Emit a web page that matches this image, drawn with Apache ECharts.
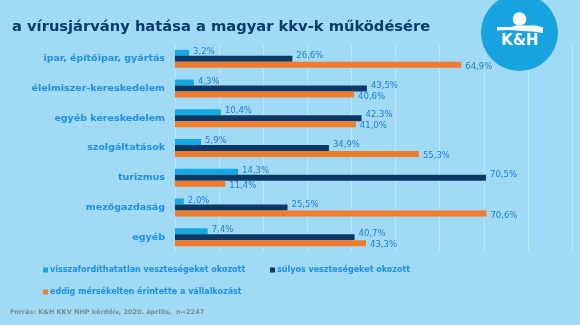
<!DOCTYPE html>
<html><head><meta charset="utf-8">
<script src="https://cdn.jsdelivr.net/npm/echarts@6/dist/echarts.min.js"></script>
<style>html,body{margin:0;padding:0;background:#a0daf5;}#c{width:580px;height:325px;}</style>
</head><body><div id="c"></div>
<script>
const categories = ['ipar, építőipar, gyártás','élelmiszer-kereskedelem','egyéb kereskedelem','szolgáltatások','turizmus','mezőgazdaság','egyéb'];
const seriesNames = ['visszafordíthatatlan veszteségeket okozott','súlyos veszteségeket okozott','eddig mérsékelten érintette a vállalkozást'];
const irreversible = [3.2, 4.3, 10.4, 5.9, 14.3, 2.0, 7.4];
const severe = [26.6, 43.5, 42.3, 34.9, 70.5, 25.5, 40.7];
const moderate = [64.9, 40.6, 41.0, 55.3, 11.4, 70.6, 43.3];
const colors = ['#14a8e2','#0b3864','#f47a2c'];
const labelOffsets = [[0,-1],[0,-3],[0,2]];
const dataSets = [irreversible, severe, moderate];

const chart = echarts.init(document.getElementById('c'));
const fmt = p => p.value.toFixed(1).replace('.', ',') + '%';
const series = dataSets.map((d, i) => ({
  name: seriesNames[i], type: 'bar', data: d, barWidth: 6, barGap: '0%',
  itemStyle: {color: colors[i]},
  label: {show: true, position: 'right', distance: 4, offset: labelOffsets[i], formatter: fmt,
    color: '#1a7fd4', fontSize: 8.5, fontFamily: 'DejaVu Sans'}
}));
const legendBase = {icon: 'rect', itemWidth: 5, itemHeight: 5,
  textStyle: {color: '#1e8fe6', fontSize: 8, fontWeight: 'bold', fontFamily: 'DejaVu Sans', padding: [0,0,0,-3]}};
chart.setOption({
  backgroundColor: '#a0daf5',
  animation: false,
  grid: {left: 175, right: 8, top: 44, height: 208},
  xAxis: {type: 'value', min: 0, max: 90, interval: 10,
    axisLabel: {show: false}, axisLine: {show: false}, axisTick: {show: false},
    splitLine: {lineStyle: {color: '#b8e5f9', width: 1}}},
  yAxis: {type: 'category', data: categories, inverse: true,
    axisLine: {show: false}, axisTick: {show: false},
    axisLabel: {margin: 10, color: '#1e8fe6', fontSize: 9.5, fontWeight: 'bold', fontFamily: 'DejaVu Sans'}},
  legend: [
    Object.assign({data: [seriesNames[0]], left: 38, top: 261}, legendBase),
    Object.assign({data: [seriesNames[1]], left: 265, top: 261}, legendBase),
    Object.assign({data: [seriesNames[2]], left: 38, top: 283}, legendBase)
  ],
  series: series,
  graphic: [
    {type: 'text', left: 12, top: 20, style: {text: 'a vírusjárvány hatása a magyar kkv-k működésére',
      fill: '#0c3a68', font: 'bold 14.7px "DejaVu Sans"'}},
    {type: 'circle', shape: {cx: 519.5, cy: 32.5, r: 38.5}, style: {fill: '#16a3e0'}, z: 100},
    {type: 'circle', shape: {cx: 519.5, cy: 19, r: 6.8}, style: {fill: '#ffffff'}, z: 101},
    {type: 'polygon', shape: {points: [[497,27],[511,27],[516,25.5],[524,25.5],[536,25.5],[543,27.5],[543,33],[533,31.5],[522,31],[510,30],[497,30.5]]},
      style: {fill: '#ffffff'}, z: 101},
    {type: 'text', x: 520, y: 41.5, style: {text: 'K&H', fill: '#ffffff', font: '900 15px "DejaVu Sans"',
      align: 'center', verticalAlign: 'middle'}, z: 101},
    {type: 'text', left: 10, top: 309, style: {text: 'Forrás: K&H KKV NHP kérdőív, 2020. április,  n=2247',
      fill: '#7d8a94', font: 'bold 6.5px "DejaVu Sans"'}}
  ]
});
</script></body></html>
